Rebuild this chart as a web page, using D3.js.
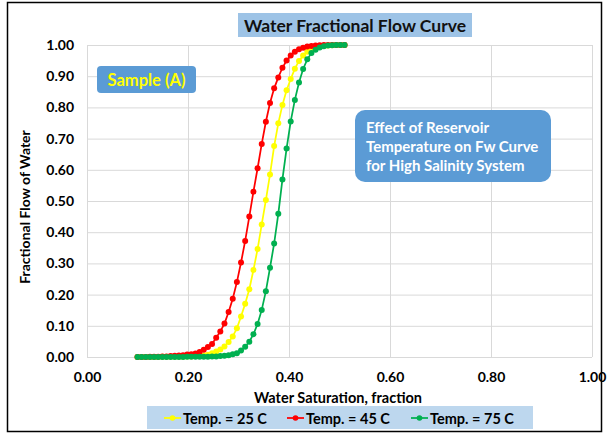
<!DOCTYPE html>
<html>
<head>
<meta charset="utf-8">
<script src="https://cdn.jsdelivr.net/npm/d3@7"></script>
<style>
  body { margin: 0; background: #fff; }
  text { font-family: Lato, "Open Sans", sans-serif; font-weight: bold; }
</style>
</head>
<body>
<div id="chart"></div>
<script>
// values
var sw = [0.1000, 0.1082, 0.1164, 0.1246, 0.1328, 0.1410, 0.1492, 0.1574, 0.1656, 0.1738,
  0.1820, 0.1902, 0.1984, 0.2066, 0.2148, 0.2230, 0.2312, 0.2394, 0.2476, 0.2558,
  0.2640, 0.2722, 0.2804, 0.2886, 0.2968, 0.3050, 0.3132, 0.3214, 0.3296, 0.3378,
  0.3460, 0.3542, 0.3624, 0.3706, 0.3788, 0.3870, 0.3952, 0.4034, 0.4116, 0.4198,
  0.4280, 0.4362, 0.4444, 0.4526, 0.4608, 0.4690, 0.4772, 0.4854, 0.4936, 0.5018, 0.5100];

var fw25 = [0.000, 0.000, 0.000, 0.000, 0.000, 0.000, 0.001, 0.001, 0.001, 0.001,
  0.001, 0.001, 0.002, 0.002, 0.003, 0.004, 0.005, 0.007, 0.012, 0.018,
  0.024, 0.034, 0.048, 0.066, 0.092, 0.130, 0.171, 0.217, 0.279, 0.346,
  0.425, 0.503, 0.585, 0.676, 0.749, 0.808, 0.855, 0.891, 0.924, 0.949,
  0.966, 0.978, 0.986, 0.991, 0.995, 0.997, 0.998, 0.999, 1.000, 1.000, 1.000];

var fw45 = [0.000, 0.000, 0.000, 0.001, 0.001, 0.001, 0.002, 0.002, 0.003, 0.004,
  0.005, 0.006, 0.008, 0.009, 0.011, 0.016, 0.023, 0.032, 0.042, 0.062,
  0.082, 0.107, 0.144, 0.187, 0.240, 0.303, 0.372, 0.450, 0.530, 0.605,
  0.683, 0.754, 0.814, 0.861, 0.896, 0.927, 0.950, 0.966, 0.978, 0.986,
  0.991, 0.995, 0.997, 0.998, 0.999, 1.000, 1.000, 1.000, 1.000, 1.000, 1.000];

var fw75 = [0.000, 0.000, 0.000, 0.000, 0.000, 0.000, 0.000, 0.000, 0.000, 0.000,
  0.000, 0.000, 0.001, 0.001, 0.001, 0.001, 0.001, 0.001, 0.002, 0.002,
  0.003, 0.004, 0.006, 0.009, 0.012, 0.021, 0.033, 0.049, 0.073, 0.106,
  0.151, 0.211, 0.286, 0.364, 0.459, 0.569, 0.668, 0.755, 0.824, 0.880,
  0.923, 0.954, 0.974, 0.985, 0.992, 0.996, 0.998, 0.999, 1.000, 1.000, 1.000];

var seriesNames = ["Temp. = 25 C", "Temp. = 45 C", "Temp. = 75 C"];
var seriesColors = ["#ffff00", "#ff0000", "#00b050"];
var xTicks = [0, 0.2, 0.4, 0.6, 0.8, 1.0];
var yTicks = [0, 0.1, 0.2, 0.3, 0.4, 0.5, 0.6, 0.7, 0.8, 0.9, 1.0];
var noteLines = ["Effect of Reservoir", "Temperature on Fw Curve", "for High Salinity System"];

var series = [fw25, fw45, fw75].map(function (vals, k) {
  return {
    name: seriesNames[k], color: seriesColors[k],
    values: vals.map(function (v, i) { return { sw: sw[i], fw: v }; })
  };
});

// set the dimensions and margins of the graph
var margin = { top: 45, right: 16, bottom: 77, left: 87 },
  width = 608 - margin.left - margin.right,
  height = 434 - margin.top - margin.bottom;

var root = d3.select("#chart")
  .append("svg")
  .attr("width", 608)
  .attr("height", 434);

// outer frame
root.append("rect")
  .attr("x", 7.5).attr("y", 2.5)
  .attr("width", 594).attr("height", 429)
  .attr("fill", "#fff")
  .attr("stroke", "#000")
  .attr("stroke-width", 1.5);

var svg = root.append("g")
  .attr("transform", "translate(" + margin.left + "," + margin.top + ")");

var x = d3.scaleLinear().domain([0, 1]).range([0, width]);
var y = d3.scaleLinear().domain([0, 1]).range([height, 0]);

// X axis with grid
var gx = svg.append("g")
  .attr("transform", "translate(0," + height + ")")
  .call(d3.axisBottom(x).tickValues(xTicks).tickSize(-height).tickPadding(15)
    .tickFormat(d3.format(".2f")));

// Y axis with grid
var gy = svg.append("g")
  .call(d3.axisLeft(y).tickValues(yTicks).tickSize(-width).tickPadding(13)
    .tickFormat(d3.format(".2f")));

[gx, gy].forEach(function (g) {
  g.select(".domain").remove();
  g.selectAll(".tick line").attr("stroke", "#d9d9d9").attr("stroke-width", 1);
  g.selectAll(".tick text")
    .attr("fill", "#000")
    .style("font-size", "14px")
    .style("font-family", "Lato, sans-serif")
    .style("font-weight", "bold");
});

// axis titles
root.append("text")
  .attr("x", 338).attr("y", 397)
  .attr("text-anchor", "middle").attr("dominant-baseline", "central")
  .style("font-size", "14.5px")
  .text("Water Saturation, fraction");

root.append("text")
  .attr("transform", "translate(24,207) rotate(-90)")
  .attr("text-anchor", "middle").attr("dominant-baseline", "central")
  .style("font-size", "14px")
  .text("Fractional Flow of Water");

// chart title
root.append("rect")
  .attr("x", 238).attr("y", 13).attr("width", 234).attr("height", 24)
  .attr("fill", "#9dc3e6");
root.append("text")
  .attr("x", 355).attr("y", 25)
  .attr("text-anchor", "middle").attr("dominant-baseline", "central")
  .style("font-size", "17.5px")
  .attr("fill", "#111")
  .text("Water Fractional Flow Curve");

// the lines
var line = d3.line()
  .x(function (d) { return x(d.sw); })
  .y(function (d) { return y(d.fw); });

series.forEach(function (s) {
  svg.append("path")
    .datum(s.values)
    .attr("fill", "none")
    .attr("stroke", s.color)
    .attr("stroke-width", 1.75)
    .attr("d", line);

  svg.selectAll(null)
    .data(s.values)
    .enter()
    .append("circle")
    .attr("cx", function (d) { return x(d.sw); })
    .attr("cy", function (d) { return y(d.fw); })
    .attr("r", 3)
    .attr("fill", s.color);
});

// sample label
root.append("rect")
  .attr("x", 97).attr("y", 66).attr("width", 99).attr("height", 27)
  .attr("rx", 4)
  .attr("fill", "#5b9bd5");
root.append("text")
  .attr("x", 146.5).attr("y", 80)
  .attr("text-anchor", "middle").attr("dominant-baseline", "central")
  .attr("fill", "#ffff00")
  .style("font-size", "16.5px")
  .text("Sample (A)");

// note box
root.append("rect")
  .attr("x", 355).attr("y", 110).attr("width", 196).attr("height", 72)
  .attr("rx", 10)
  .attr("fill", "#5b9bd5");
root.selectAll(null)
  .data(noteLines)
  .enter()
  .append("text")
  .attr("x", 366)
  .attr("y", function (d, i) { return 127 + i * 19; })
  .attr("dominant-baseline", "central")
  .attr("fill", "#fff")
  .style("font-size", "15px")
  .text(function (d) { return d; });

// legend
root.append("rect")
  .attr("x", 147).attr("y", 406).attr("width", 386).attr("height", 23)
  .attr("fill", "#bdd7ee");

var legendX = [164, 287, 411];
var leg = root.selectAll(".leg")
  .data(series)
  .enter()
  .append("g")
  .attr("class", "leg")
  .attr("transform", function (d, i) { return "translate(" + legendX[i] + ",418)"; });
leg.append("line")
  .attr("x1", 0).attr("x2", 17)
  .attr("stroke", function (d) { return d.color; })
  .attr("stroke-width", 1.75);
leg.append("circle")
  .attr("cx", 8.5).attr("r", 2.8)
  .attr("fill", function (d) { return d.color; });
leg.append("text")
  .attr("x", 19)
  .attr("dominant-baseline", "central")
  .style("font-size", "14.5px")
  .text(function (d) { return d.name; });
</script>
</body>
</html>
